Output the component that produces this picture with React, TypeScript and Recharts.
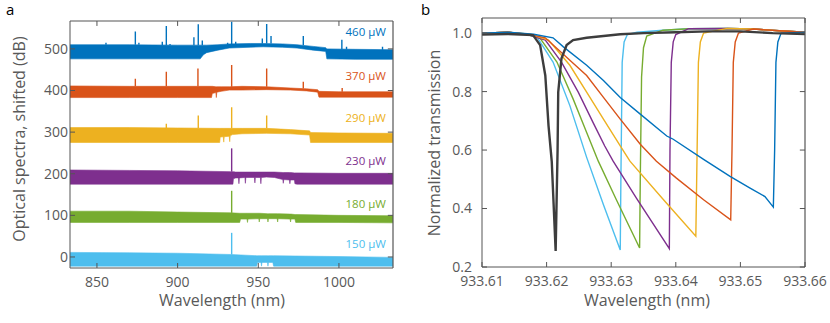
import { Area, ComposedChart, Line, LineChart, ReferenceLine, XAxis, YAxis } from "recharts";

const FONT = "'Open Sans', 'DejaVu Sans', sans-serif";
const AXIS = "#555555";
const TEXT = "#595959";

const C460 = "#0072BD";
const C370 = "#D95319";
const C290 = "#EDB120";
const C230 = "#7E2F8E";
const C180 = "#77AC30";
const C150 = "#4DBEEE";
const COLD = "#3d3d3d";

// ---- panel a: spectra bands (lower / upper edge of the noisy trace, dB shifted)
const aDomainX = [833.3, 1033.5];
const aDomainY = [-26.5, 567];
const aTicksX = [850, 900, 950, 1000];
const aTicksY = [0, 100, 200, 300, 400, 500];

const band460X = [833.3, 870, 900, 914, 916, 918, 925, 932, 945, 953, 965, 974, 984, 991.8, 992.5, 1010, 1033.5];
const band460Lo = [476, 476, 476, 476, 486, 491, 497, 502, 504, 505, 504, 502, 497, 494, 476, 475, 475];
const band460Hi = [510, 510, 509, 509, 509, 509, 510, 512, 513, 513, 512, 510, 506, 503, 500, 499, 498];

const band370X = [833.3, 870, 900, 921, 921.5, 923.7, 924.0, 924.3, 927, 932, 940, 955, 970, 980, 986.8, 987.6, 1000, 1033.5];
const band370Lo = [383, 383, 383, 383, 393, 395, 383, 396, 398, 401, 401, 402, 401, 399, 396, 384, 384, 384];
const band370Hi = [411, 410, 410, 410, 410, 409, 409, 409, 409, 409, 410, 409, 406, 404, 402, 398, 397, 397];

const band290X = [833.3, 870, 900, 925.8, 926.1, 926.4, 928.3, 928.6, 928.9, 932.0, 932.3, 932.6, 934, 940, 955, 970, 981.8, 982.4, 1000, 1033.5];
const band290Lo = [275, 275, 275, 275, 275, 288, 289, 276, 289, 290, 277, 291, 294, 296, 297, 296, 293, 275, 275, 275];
const band290Hi = [311, 311, 310, 309, 309, 309, 309, 309, 309, 309, 309, 309, 309, 309, 309, 306, 303, 299, 298, 297];

const band230X = [833.3, 870, 900, 933, 934.0, 934.3, 934.6, 936, 937.7, 938, 938.3, 941.7, 942, 942.3, 947.6, 947.9, 948.2, 951.3, 951.6, 951.9, 955, 960, 965.2, 965.5, 965.8, 969.3, 969.6, 969.9, 972.4, 972.7, 974, 1000, 1033.5];
const band230Lo = [175, 175, 175, 175, 175, 175, 188, 190, 190, 176, 190, 191, 177, 191, 191, 178, 191, 191, 176, 191, 192, 191, 186, 177, 186, 185, 176, 185, 185, 176, 175, 175, 175];
const band230Hi = [209, 208, 207, 205, 205, 205, 205, 204, 204, 204, 204, 204, 204, 204, 204, 204, 204, 204, 204, 204, 204, 204, 203, 203, 203, 203, 203, 203, 202, 202, 202, 201, 201];

const band180X = [833.3, 870, 900, 933, 938.5, 939, 943.0, 943.3, 943.6, 950.3, 950.6, 950.9, 955.7, 956.0, 956.3, 961.7, 962.0, 962.3, 969.7, 970.0, 970.3, 972.7, 973.2, 1000, 1033.5];
const band180Lo = [83, 83, 83, 83, 83, 91, 91, 83, 91, 92, 84, 92, 92, 84, 92, 92, 84, 92, 91, 84, 91, 91, 83, 83, 82];
const band180Hi = [110, 110, 108, 106, 105, 105, 105, 105, 105, 105, 105, 105, 104, 104, 104, 104, 104, 104, 103, 103, 103, 102, 102, 100, 99];

const band150X = [833.3, 870, 900, 933, 949, 949.5, 951.7, 952.0, 952.3, 955.7, 956.0, 956.3, 959, 959.5, 1000, 1033.5];
const band150Lo = [-22, -22, -22, -22, -22, -13, -13, -22, -13, -13, -22, -13, -13, -22, -22, -22];
const band150Hi = [11, 10, 9, 6, 3, 3, 3, 3, 3, 3, 3, 3, 3, 3, 1, -1];

// narrow spectral lines sticking out of each band
const spike460X = [855.6, 873.8, 876, 890.5, 893, 895.3, 910.1, 912.8, 915.3, 931, 933.5, 936, 952.5, 955.2, 957.9, 977.9, 1001.8, 1004.7, 1027];
const spike460Base = [510, 510, 510, 509, 509, 509, 509, 509, 509, 510, 511, 512, 513, 513, 513, 509, 499, 499, 498];
const spike460Peak = [515, 542, 515, 517, 555, 512, 528, 559, 520, 515, 565, 517, 525, 560, 531, 531, 522, 505, 505];

const spike370X = [873.8, 893, 912.6, 933.5, 955.2, 977.9, 1002];
const spike370Base = [410, 410, 410, 409, 409, 405, 397];
const spike370Peak = [428, 445, 453, 461, 453, 421, 406];

const spike290X = [893, 912.8, 933.5, 955.2];
const spike290Base = [310, 310, 309, 309];
const spike290Peak = [320, 340, 360, 340];

const spike230X = [933.5];
const spike230Base = [205];
const spike230Peak = [261];

const spike180X = [933.5];
const spike180Base = [106];
const spike180Peak = [159];

const spike150X = [933.5];
const spike150Base = [6];
const spike150Peak = [58];

// ---- panel b: normalized transmission
const bDomainX = [933.61, 933.66];
const bDomainY = [0.2, 1.0517];
const bTicksX = [933.61, 933.62, 933.63, 933.64, 933.65, 933.66];
const bTicksY = [0.2, 0.4, 0.6, 0.8, 1.0];

const t150X = [933.61, 933.614, 933.6165, 933.6185, 933.621, 933.6236, 933.6262, 933.6288, 933.6314, 933.6315, 933.6317, 933.632, 933.6325, 933.634, 933.638, 933.642, 933.648, 933.652, 933.656, 933.66];
const t150Y = [1.0, 1.003, 0.998, 0.987, 0.901, 0.752, 0.575, 0.413, 0.258, 0.5, 0.9, 0.97, 0.995, 1.003, 1.01, 1.015, 1.016, 1.014, 1.008, 1.003];

const t180X = [933.61, 933.614, 933.617, 933.619, 933.6216, 933.6241, 933.6262, 933.628, 933.6308, 933.6344, 933.6345, 933.6347, 933.635, 933.6355, 933.638, 933.642, 933.648, 933.652, 933.656, 933.66];
const t180Y = [1.0, 1.003, 0.995, 0.982, 0.901, 0.775, 0.66, 0.562, 0.43, 0.265, 0.5, 0.85, 0.95, 0.99, 1.01, 1.015, 1.016, 1.014, 1.008, 1.003];

const t230X = [933.61, 933.614, 933.617, 933.6198, 933.6223, 933.6249, 933.6272, 933.629, 933.6303, 933.6339, 933.639, 933.6391, 933.6393, 933.6396, 933.64, 933.642, 933.648, 933.652, 933.656, 933.66];
const t230Y = [1.0, 1.003, 0.996, 0.976, 0.901, 0.798, 0.694, 0.614, 0.562, 0.436, 0.263, 0.6, 0.9, 0.97, 0.995, 1.015, 1.016, 1.014, 1.008, 1.003];

const t290X = [933.61, 933.614, 933.6175, 933.6203, 933.6236, 933.6262, 933.6288, 933.6314, 933.6329, 933.6381, 933.6431, 933.6433, 933.6435, 933.6438, 933.6443, 933.648, 933.652, 933.656, 933.66];
const t290Y = [1.0, 1.003, 0.996, 0.976, 0.89, 0.798, 0.706, 0.614, 0.562, 0.43, 0.305, 0.6, 0.9, 0.97, 1.0, 1.016, 1.014, 1.008, 1.003];

const t370X = [933.61, 933.614, 933.6175, 933.6198, 933.6236, 933.6262, 933.6288, 933.6314, 933.6345, 933.637, 933.6401, 933.6443, 933.6485, 933.6487, 933.6489, 933.6492, 933.6497, 933.652, 933.656, 933.66];
const t370Y = [1.0, 1.003, 0.995, 0.984, 0.907, 0.855, 0.78, 0.706, 0.62, 0.562, 0.504, 0.43, 0.361, 0.6, 0.9, 0.97, 1.0, 1.014, 1.008, 1.003];

const t460X = [933.61, 933.614, 933.618, 933.621, 933.6226, 933.6262, 933.6288, 933.6314, 933.6345, 933.6386, 933.6396, 933.6443, 933.6484, 933.6515, 933.6538, 933.6551, 933.6553, 933.6555, 933.6558, 933.6563, 933.66];
const t460Y = [1.0, 1.003, 0.996, 0.984, 0.953, 0.89, 0.838, 0.78, 0.723, 0.648, 0.637, 0.568, 0.51, 0.47, 0.441, 0.405, 0.6, 0.9, 0.97, 1.0, 1.003];

const coldX = [933.61, 933.614, 933.6179, 933.619, 933.6198, 933.6203, 933.6208, 933.6214, 933.6217, 933.6218, 933.6223, 933.6231, 933.6241, 933.6262, 933.6314, 933.635, 933.64, 933.645, 933.65, 933.655, 933.66];
const coldY = [0.995, 0.997, 0.993, 0.959, 0.855, 0.683, 0.56, 0.255, 0.6, 0.798, 0.913, 0.959, 0.976, 0.984, 0.996, 1.0, 1.003, 1.006, 1.006, 1.0, 0.997];

const toBand = (x: number[], lo: number[], hi: number[]) =>
  x.map((v, i) => ({ x: v, range: [lo[i], hi[i]] }));

const toSpikes = (x: number[], base: number[], peak: number[]) =>
  x.flatMap((v, i) => [
    { x: v, y: base[i] },
    { x: v, y: peak[i] },
    { x: v, y: null },
  ]);

const toLine = (x: number[], y: number[]) => x.map((v, i) => ({ x: v, y: y[i] }));

const spectra = [
  { key: "460", label: "460 μW", color: C460, labelY: 32, band: toBand(band460X, band460Lo, band460Hi), spikes: toSpikes(spike460X, spike460Base, spike460Peak) },
  { key: "370", label: "370 μW", color: C370, labelY: 76, band: toBand(band370X, band370Lo, band370Hi), spikes: toSpikes(spike370X, spike370Base, spike370Peak) },
  { key: "290", label: "290 μW", color: C290, labelY: 118, band: toBand(band290X, band290Lo, band290Hi), spikes: toSpikes(spike290X, spike290Base, spike290Peak) },
  { key: "230", label: "230 μW", color: C230, labelY: 161, band: toBand(band230X, band230Lo, band230Hi), spikes: toSpikes(spike230X, spike230Base, spike230Peak) },
  { key: "180", label: "180 μW", color: C180, labelY: 204, band: toBand(band180X, band180Lo, band180Hi), spikes: toSpikes(spike180X, spike180Base, spike180Peak) },
  { key: "150", label: "150 μW", color: C150, labelY: 244, band: toBand(band150X, band150Lo, band150Hi), spikes: toSpikes(spike150X, spike150Base, spike150Peak) },
];

const traces = [
  { key: "150", color: C150, data: toLine(t150X, t150Y) },
  { key: "180", color: C180, data: toLine(t180X, t180Y) },
  { key: "230", color: C230, data: toLine(t230X, t230Y) },
  { key: "290", color: C290, data: toLine(t290X, t290Y) },
  { key: "370", color: C370, data: toLine(t370X, t370Y) },
  { key: "460", color: C460, data: toLine(t460X, t460Y) },
];

const tickStyle = { fill: TEXT, fontSize: 14, fontFamily: FONT };

// top and right sides of the box with inward ticks (MATLAB "box on"),
// tick length given as a fraction of the axis span (about 5 px)
function boxLines(dx: number[], dy: number[], tx: number[], ty: number[], id: string) {
  const lx = (dx[1] - dx[0]) * 0.016;
  const ly = (dy[1] - dy[0]) * 0.02;
  return [
    <ReferenceLine key={`${id}-top`} y={dy[1]} stroke={AXIS} strokeWidth={1.2} ifOverflow="visible" />,
    <ReferenceLine key={`${id}-right`} x={dx[1]} stroke={AXIS} strokeWidth={1.2} ifOverflow="visible" />,
    ...tx.map((t) => (
      <ReferenceLine
        key={`${id}-tt-${t}`}
        segment={[{ x: t, y: dy[1] }, { x: t, y: dy[1] - ly }]}
        stroke={AXIS}
        ifOverflow="visible"
      />
    )),
    ...ty.map((t) => (
      <ReferenceLine
        key={`${id}-rt-${t}`}
        segment={[{ x: dx[1], y: t }, { x: dx[1] - lx, y: t }]}
        stroke={AXIS}
        ifOverflow="visible"
      />
    )),
  ];
}

function SideTitle({ text, x, y }: { text: string; x: number; y: number }) {
  return (
    <div
      style={{
        position: "absolute",
        left: x,
        top: y,
        transform: "translate(-50%, -50%) rotate(-90deg)",
        whiteSpace: "nowrap",
        fontFamily: FONT,
        fontSize: 16,
        lineHeight: "16px",
        color: TEXT,
      }}
    >
      {text}
    </div>
  );
}

function BottomTitle({ text, x, y }: { text: string; x: number; y: number }) {
  return (
    <div
      style={{
        position: "absolute",
        left: x,
        top: y,
        transform: "translate(-50%, -50%)",
        whiteSpace: "nowrap",
        fontFamily: FONT,
        fontSize: 16,
        lineHeight: "16px",
        color: TEXT,
      }}
    >
      {text}
    </div>
  );
}

function PanelLetter({ text, x }: { text: string; x: number }) {
  return (
    <div
      style={{
        position: "absolute",
        left: x,
        top: 1.5,
        fontFamily: FONT,
        fontSize: 15,
        lineHeight: "15px",
        color: "#000",
      }}
    >
      {text}
    </div>
  );
}

export default function App() {
  return (
    <div
      style={{
        position: "absolute",
        left: 0,
        top: 0,
        width: 830,
        height: 323,
        background: "#fff",
        overflow: "hidden",
      }}
    >
      <div style={{ position: "absolute", left: 0, top: 0 }}>
        <ComposedChart width={400} height={323} margin={{ top: 21, right: 7, bottom: 0, left: 0 }}>
          <XAxis
            type="number"
            dataKey="x"
            domain={aDomainX}
            ticks={aTicksX}
            interval={0}
            allowDataOverflow
            height={55}
            tickSize={-5}
            tickMargin={14}
            stroke={AXIS}
            tick={tickStyle}
          />
          <YAxis
            type="number"
            domain={aDomainY}
            ticks={aTicksY}
            interval={0}
            allowDataOverflow
            width={70}
            tickSize={-5}
            tickMargin={7}
            stroke={AXIS}
            tick={tickStyle}
          />
          {spectra.map((s) => (
            <Area
              key={`band-${s.key}`}
              data={s.band}
              dataKey="range"
              type="linear"
              stroke={s.color}
              strokeWidth={0.6}
              fill={s.color}
              fillOpacity={1}
              isAnimationActive={false}
            />
          ))}
          {spectra.map((s) => (
            <Line
              key={`spike-${s.key}`}
              data={s.spikes}
              dataKey="y"
              type="linear"
              stroke={s.color}
              strokeWidth={1.4}
              dot={false}
              activeDot={false}
              connectNulls={false}
              isAnimationActive={false}
            />
          ))}
          {boxLines(aDomainX, aDomainY, aTicksX, aTicksY, "a")}
        </ComposedChart>
      </div>

      {spectra.map((s) => (
        <div
          key={`lab-${s.key}`}
          style={{
            position: "absolute",
            right: 830 - 386,
            top: s.labelY - 8.4,
            fontFamily: FONT,
            fontSize: 11.5,
            lineHeight: "16px",
            color: s.color,
            whiteSpace: "nowrap",
          }}
        >
          {s.label}
        </div>
      ))}

      <div style={{ position: "absolute", left: 410, top: 0 }}>
        <LineChart width={420} height={323} margin={{ top: 18, right: 25, bottom: 0, left: 0 }}>
          <XAxis
            type="number"
            dataKey="x"
            domain={bDomainX}
            ticks={bTicksX}
            interval={0}
            allowDataOverflow
            height={56}
            tickSize={-5}
            tickMargin={14}
            tickFormatter={(v: number) => v.toFixed(2)}
            stroke={AXIS}
            tick={tickStyle}
          />
          <YAxis
            type="number"
            domain={bDomainY}
            ticks={bTicksY}
            interval={0}
            allowDataOverflow
            width={72}
            tickSize={-5}
            tickMargin={15}
            tickFormatter={(v: number) => v.toFixed(1)}
            stroke={AXIS}
            tick={tickStyle}
          />
          {traces.map((t) => (
            <Line
              key={t.key}
              data={t.data}
              dataKey="y"
              type="linear"
              stroke={t.color}
              strokeWidth={1.4}
              dot={false}
              activeDot={false}
              isAnimationActive={false}
            />
          ))}
          <Line
            data={toLine(coldX, coldY)}
            dataKey="y"
            type="linear"
            stroke={COLD}
            strokeWidth={2.4}
            dot={false}
            activeDot={false}
            isAnimationActive={false}
          />
          {boxLines(bDomainX, bDomainY, bTicksX, bTicksY, "b")}
        </LineChart>
      </div>

      <PanelLetter text="a" x={6} />
      <PanelLetter text="b" x={421} />
      <SideTitle text="Optical spectra, shifted (dB)" x={19} y={139} />
      <SideTitle text="Normalized transmission" x={434} y={143} />
      <BottomTitle text="Wavelength (nm)" x={222} y={300} />
      <BottomTitle text="Wavelength (nm)" x={647} y={300} />
    </div>
  );
}
